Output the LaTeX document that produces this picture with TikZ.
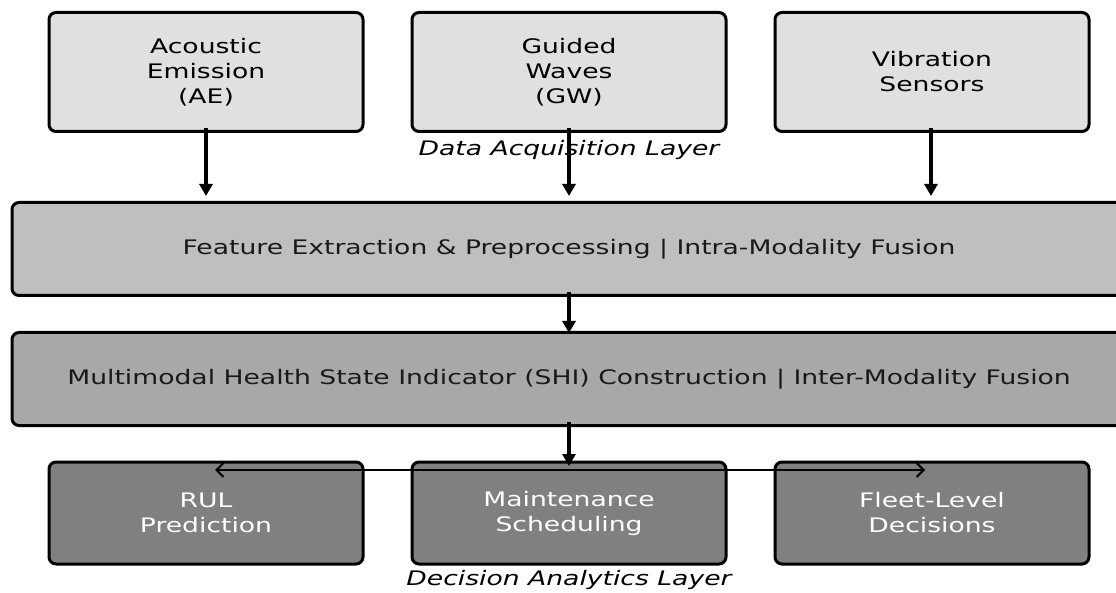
\documentclass[tikz,border=0pt]{standalone}
\usepackage{fontspec}
\setmainfont[FakeStretch=1.33]{DejaVu Sans}
\usetikzlibrary{arrows.meta}
\begin{document}
\begin{tikzpicture}[x=1pt,y=-1pt,
  boxbase/.style={draw=black,line width=3pt,rounded corners=7pt,align=center,
    font=\fontsize{20}{25}\selectfont,inner sep=0pt},
  topbox/.style={boxbase,fill=black!12,minimum width=314pt,minimum height=119pt},
  featbox/.style={boxbase,fill=black!25,minimum width=1114pt,minimum height=93pt,text=black!90},
  shibox/.style={boxbase,fill=black!34,minimum width=1114pt,minimum height=93pt,text=black!90},
  botbox/.style={boxbase,fill=black!50,minimum width=314pt,minimum height=102pt,text=white},
  layerlbl/.style={font=\fontsize{20}{25}\selectfont\itshape,inner sep=0pt},
  varrow/.style={line width=3.2pt,-{Stealth[length=12pt,width=13pt,inset=0pt]}},
  harrow/.style={line width=2pt,-{Straight Barb[length=7pt,width=14pt]}}]
\useasboundingbox (0,0) rectangle (1116,593);
\clip (0,0) rectangle (1116,593);
\node[topbox] (ae) at (206,72) {Acoustic\\Emission\\(AE)};
\node[topbox] (gw) at (569,72) {Guided\\Waves\\(GW)};
\node[topbox] (vib) at (932,72) {Vibration\\Sensors};
\node[layerlbl] (dal) at (569,150) {Data Acquisition Layer};
\node[featbox] (feat) at (569,249) {Feature Extraction \& Preprocessing | Intra-Modality Fusion};
\node[shibox] (shi) at (569,379) {Multimodal Health State Indicator (SHI) Construction | Inter-Modality Fusion};
\node[botbox] (rul) at (206,513) {RUL\\Prediction};
\node[botbox] (ms) at (569,513) {Maintenance\\Scheduling};
\node[botbox] (fl) at (932,513) {Fleet-Level\\Decisions};
\node[layerlbl] (dcl) at (569,580) {Decision Analytics Layer};
\draw[varrow] (206,128) -- (206,196);
\draw[varrow] (569,128) -- (569,196);
\draw[varrow] (931,128) -- (931,196);
\draw[varrow] (569,292) -- (569,333);
\draw[varrow] (569,422) -- (569,466);
\coordinate (hc) at (569,470);
\draw[harrow] (hc) -- (215,470);
\draw[harrow] (hc) -- (925,470);
\end{tikzpicture}
\end{document}
